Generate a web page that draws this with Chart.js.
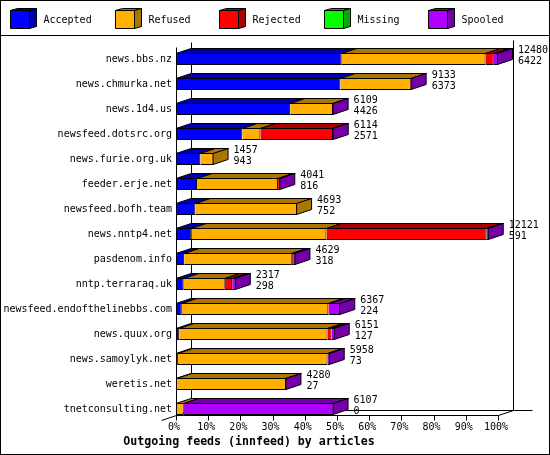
<!DOCTYPE html>
<html><head><meta charset="utf-8">
<script src="https://cdn.jsdelivr.net/npm/chart.js@4/dist/chart.umd.min.js"></script>
<style>html,body{margin:0;padding:0;background:#fff;}canvas{display:block;}</style>
</head><body>
<canvas id="c" width="550" height="455"></canvas>
<script>
// ---- data ----
const feeds = ['news.bbs.nz','news.chmurka.net','news.1d4.us','newsfeed.dotsrc.org','news.furie.org.uk',
  'feeder.erje.net','newsfeed.bofh.team','news.nntp4.net','pasdenom.info','nntp.terraraq.uk',
  'newsfeed.endofthelinebbs.com','news.quux.org','news.samoylyk.net','weretis.net','tnetconsulting.net'];
const offered  = [12480, 9133, 6109, 6114, 1457, 4041, 4693, 12121, 4629, 2317, 6367, 6151, 5958, 4280, 6107];
const accepted = [ 6422, 6373, 4426, 2571,  943,  816,  752,   591,  318,  298,  224,  127,   73,   27,    0];
const refused  = [ 5575, 2750, 1660,  700,  514, 3140, 3941,  5240, 4170, 1590, 5680, 5745, 5800, 4240,  300];
const rejected = [  320,    0,    0, 2815,    0,   70,    0,  6210,   50,  287,   60,  155,    0,    0,    0];
const missing  = [    0,    0,    0,    0,    0,    0,    0,     0,    0,    0,    0,    0,    0,    0,    0];
const spooled  = [  163,   10,   23,   28,    0,   15,    0,    80,   91,  142,  403,  124,   85,   13, 5807];
const seriesNames = ['Accepted','Refused','Rejected','Missing','Spooled'];
const frontColors = ['#0000ff','#ffb000','#ff0000','#00ff00','#b000ff'];
const darkColors  = ['#0000aa','#aa7500','#aa0000','#00aa00','#7500aa'];
const xTickValues = [0,10,20,30,40,50,60,70,80,90,100];
const titleText = 'Outgoing feeds (innfeed) by articles';

const FONT = "'DejaVu Sans Mono', 'Liberation Mono', monospace";
const DX = 15, DY = 5;
const maxTotal = Math.max(...offered);
const pct = arr => arr.map(v => v / maxTotal * 100);
const series = [accepted, refused, rejected, missing, spooled];

const datasets = series.map((arr, k) => ({
  label: seriesNames[k],
  data: pct(arr),
  backgroundColor: frontColors[k],
  borderColor: '#000',
  borderWidth: 1,
  borderSkipped: 'start',
  inflateAmount: 0,
  barThickness: 12
}));

function poly(ctx, pts, fill) {
  ctx.beginPath();
  ctx.moveTo(pts[0][0], pts[0][1]);
  for (let i = 1; i < pts.length; i++) ctx.lineTo(pts[i][0], pts[i][1]);
  ctx.closePath();
  ctx.fillStyle = fill; ctx.fill();
  ctx.strokeStyle = '#000'; ctx.lineWidth = 1; ctx.stroke();
}
function line(ctx, x1, y1, x2, y2) {
  ctx.beginPath(); ctx.moveTo(x1, y1); ctx.lineTo(x2, y2);
  ctx.strokeStyle = '#000'; ctx.lineWidth = 1; ctx.stroke();
}

const plot3d = {
  id: 'plot3d',
  geom(chart) {
    const xs = chart.scales.x, ys = chart.scales.y;
    const x0 = Math.round(xs.getPixelForValue(0)) + 0.5;
    const x100 = Math.round(xs.getPixelForValue(100)) + 0.5;
    const yF = Math.round(ys.getPixelForValue(feeds.length - 1) + 6) + 0.5;
    const yTop = Math.round(chart.chartArea.top) + 0.5;
    return {xs, ys, x0, x100, yF, yTop};
  },
  beforeDatasetsDraw(chart) {
    const ctx = chart.ctx; const g = this.geom(chart);
    ctx.save();
    // back wall & floor
    line(ctx, g.x0 + DX, g.yTop - DY, g.x0 + DX, g.yF - DY);
    line(ctx, g.x100 + DX, g.yTop - DY - 2, g.x100 + DX, g.yF - DY);
    line(ctx, g.x0 + DX, g.yF - DY, g.x100 + DX + 19, g.yF - DY);
    line(ctx, g.x0 + DX, g.yF - DY, g.x0 - DX, g.yF + DY);
    line(ctx, g.x100, g.yF, g.x100 + DX, g.yF - DY);
    ctx.restore();
  },
  afterDatasetsDraw(chart) {
    const ctx = chart.ctx; const g = this.geom(chart);
    ctx.save();
    for (let i = 0; i < feeds.length; i++) {
      let last = -1;
      for (let k = 0; k < series.length; k++) {
        if (series[k][i] <= 0) continue;
        const el = chart.getDatasetMeta(k).data[i];
        const top = Math.round(el.y - el.height / 2) + 0.5;
        const xa = el.base, xb = el.x;
        poly(ctx, [[xa, top], [xa + DX, top - DY], [xb + DX, top - DY], [xb, top]], darkColors[k]);
        last = k;
      }
      if (last >= 0) {
        const el = chart.getDatasetMeta(last).data[i];
        const top = Math.round(el.y - el.height / 2) + 0.5;
        const bot = Math.round(el.y + el.height / 2) - 0.5;
        const xb = el.x - 0.5;
        poly(ctx, [[xb, top], [xb + DX, top - DY], [xb + DX, bot - DY], [xb, bot]], darkColors[last]);
      }
      // value labels
      const endX = g.xs.getPixelForValue(offered[i] / maxTotal * 100);
      const cy = g.ys.getPixelForValue(i);
      ctx.fillStyle = '#000'; ctx.font = '10px ' + FONT;
      ctx.textAlign = 'left'; ctx.textBaseline = 'middle';
      ctx.fillText(String(offered[i]), endX + DX + 5, cy - 9);
      ctx.fillText(String(accepted[i]), endX + DX + 5, cy + 2);
    }
    // front axes
    line(ctx, g.x0, g.yTop, g.x0, g.yF);
    line(ctx, g.x0, g.yF, g.x100, g.yF);
    xTickValues.forEach(v => {
      const x = Math.round(g.xs.getPixelForValue(v)) + 0.5;
      line(ctx, x, g.yF, x, g.yF + 5);
    });
    ctx.restore();
  },
  afterDraw(chart) {
    const ctx = chart.ctx;
    ctx.save();
    // outer border and legend separator
    ctx.strokeStyle = '#000'; ctx.lineWidth = 1;
    ctx.strokeRect(0.5, 0.5, 549, 454);
    line(ctx, 0, 35.5, 550, 35.5);
    // legend
    ctx.font = '10px ' + FONT; ctx.textAlign = 'left'; ctx.textBaseline = 'middle';
    seriesNames.forEach((name, k) => {
      const bx = Math.round(10 + 104.5 * k) + 0.5;
      const t = 10.5, b = 28.5, w = 19, dx = 7, dy = 2;
      poly(ctx, [[bx, t], [bx + w, t], [bx + w, b], [bx, b]], frontColors[k]);
      poly(ctx, [[bx, t], [bx + dx, t - dy], [bx + w + dx, t - dy], [bx + w, t]], darkColors[k]);
      poly(ctx, [[bx + w, t], [bx + w + dx, t - dy], [bx + w + dx, b - dy], [bx + w, b]], darkColors[k]);
      ctx.fillStyle = '#000';
      ctx.fillText(name, bx + 33, 20);
    });
    ctx.restore();
  }
};

new Chart(document.getElementById('c'), {
  type: 'bar',
  data: { labels: feeds, datasets },
  options: {
    indexAxis: 'y',
    responsive: false,
    animation: false,
    devicePixelRatio: 1,
    layout: { padding: { top: 46.5, right: 52, bottom: 0, left: 0 } },
    plugins: {
      legend: { display: false },
      tooltip: { enabled: false },
      title: {
        display: true, position: 'bottom', text: titleText, color: '#000',
        font: { family: FONT, size: 11.6, weight: 'bold' },
        padding: { top: 0, bottom: 6 }
      }
    },
    scales: {
      x: {
        stacked: true, min: 0, max: 100,
        afterBuildTicks: s => { s.ticks = xTickValues.map(v => ({ value: v })); },
        ticks: { callback: v => v + '%', color: '#000', font: { family: FONT, size: 10 },
                 padding: 0, maxRotation: 0, autoSkip: false, labelOffset: -2 },
        grid: { display: false, drawTicks: false },
        border: { display: false },
        afterFit: s => { s.height = 13.6; }
      },
      y: {
        stacked: true,
        ticks: { color: '#000', font: { family: FONT, size: 10 }, padding: 4, autoSkip: false },
        grid: { display: false, drawTicks: false },
        border: { display: false },
        afterFit: s => { s.width = 176; }
      }
    }
  },
  plugins: [plot3d]
});
</script>
</body></html>
